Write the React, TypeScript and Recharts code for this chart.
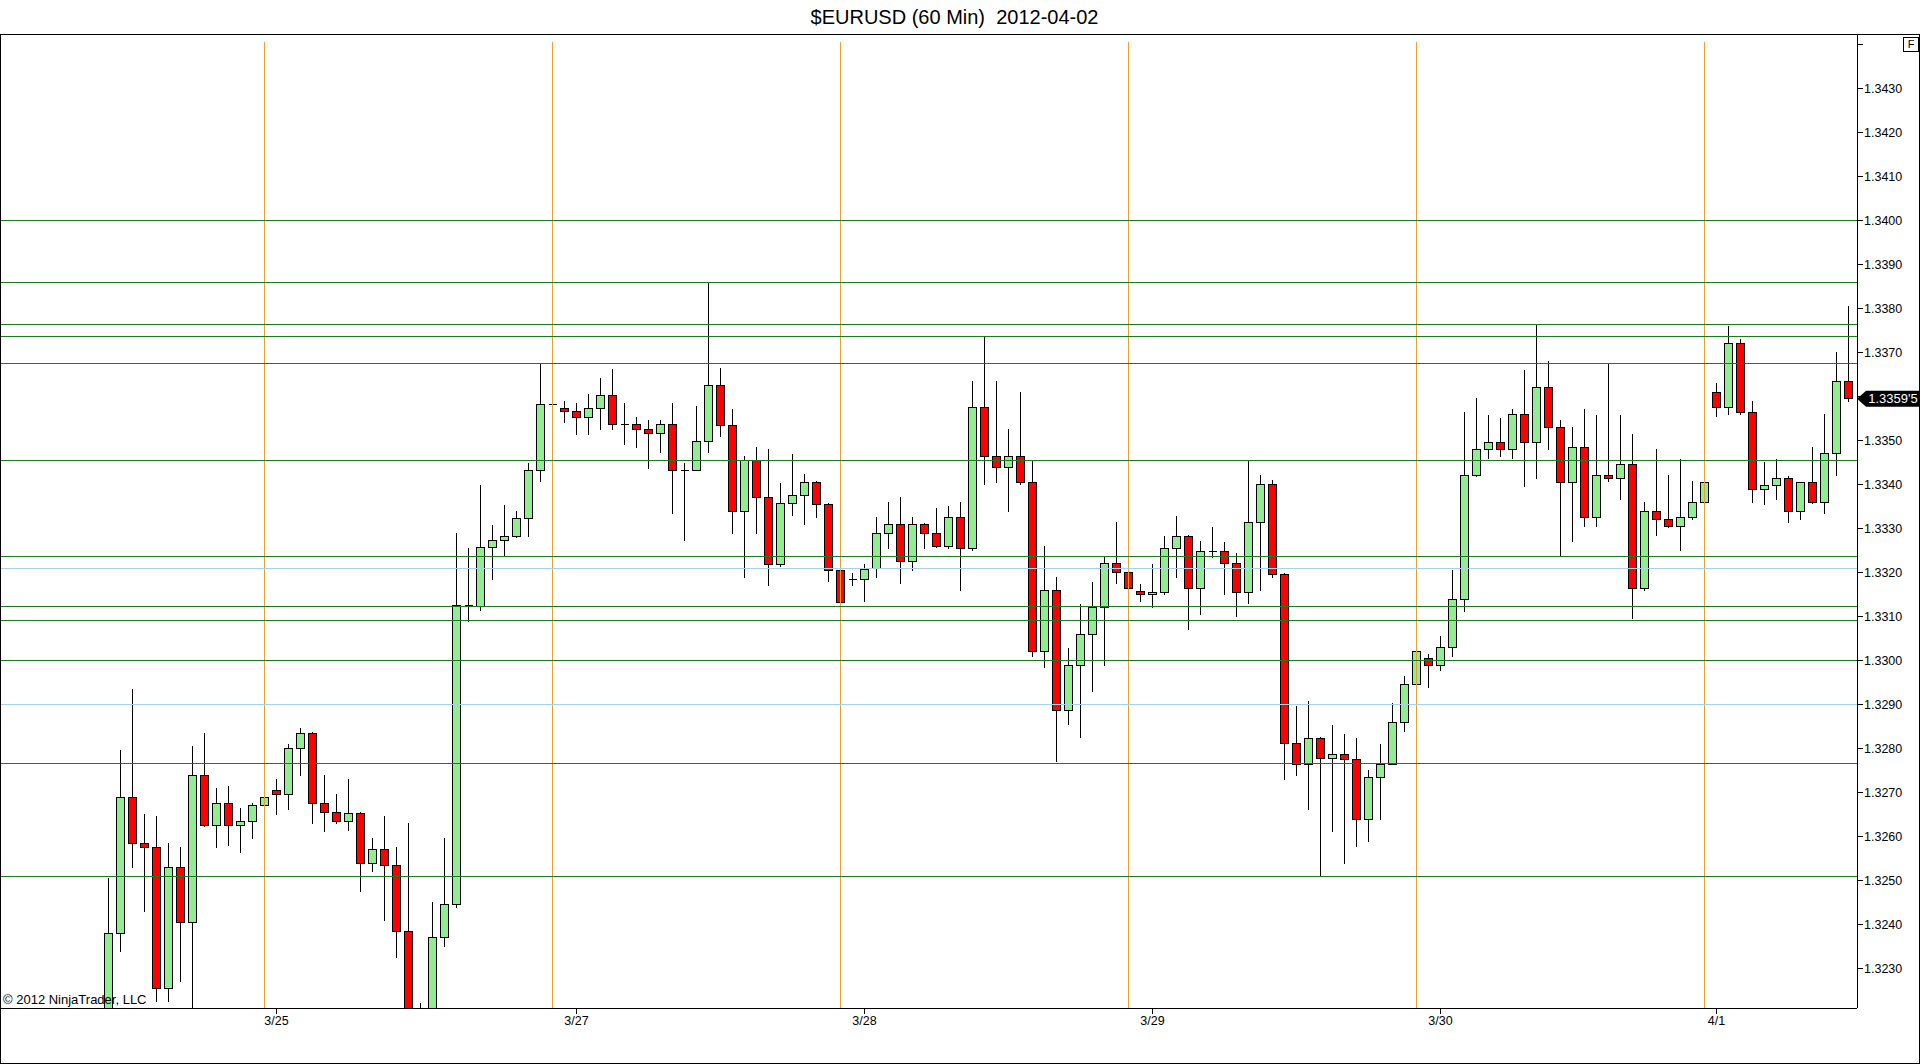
import React from "react";
import { ComposedChart, Bar, XAxis, YAxis, ReferenceLine } from "recharts";

// hourly EURUSD candles, index 0 = first bar on screen
const opens = [
  1.3200, 1.32381, 1.3269, 1.32585, 1.32576, 1.32255, 1.32531, 1.32406, 1.3274, 1.32625,
  1.32676, 1.32625, 1.32635, 1.32672, 1.32706, 1.32697, 1.32801, 1.32835, 1.32676, 1.32656,
  1.32635, 1.32652, 1.3254, 1.32572, 1.32535, 1.32385, 1.3200, 1.3205, 1.32371, 1.32446,
  1.33126, 1.33122, 1.33256, 1.33272, 1.33282, 1.33322, 1.33431, 1.33582, 1.33572, 1.33567,
  1.33553, 1.33572, 1.33602, 1.33536, 1.33536, 1.33524, 1.33516, 1.33536, 1.33431, 1.33431,
  1.33498, 1.33624, 1.33534, 1.33338, 1.33455, 1.3337, 1.33219, 1.33358, 1.33375, 1.33404,
  1.33354, 1.33204, 1.33185, 1.33185, 1.33209, 1.33288, 1.33309, 1.33225, 1.33309, 1.33288,
  1.33259, 1.33325, 1.33254, 1.33575, 1.33464, 1.33439, 1.33464, 1.33404, 1.3302, 1.33159,
  1.32888, 1.32988, 1.33059, 1.33121, 1.3322, 1.332, 1.33157, 1.3315, 1.33154, 1.33254,
  1.33283, 1.33163, 1.33249, 1.33249, 1.3322, 1.33154, 1.33313, 1.334, 1.33195, 1.32813,
  1.32765, 1.32824, 1.32778, 1.32788, 1.32776, 1.32639, 1.32734, 1.32764, 1.32859, 1.32946,
  1.33004, 1.3299, 1.33029, 1.33138, 1.33421, 1.3348, 1.33495, 1.3348, 1.33559, 1.33496,
  1.33621, 1.3353, 1.33405, 1.33485, 1.33325, 1.33421, 1.33414, 1.33446, 1.33164, 1.33339,
  1.3332, 1.33304, 1.33325, 1.33359, 1.33609, 1.33575, 1.33721, 1.33563, 1.33389, 1.33399,
  1.33413, 1.33339, 1.33404, 1.33359, 1.3347, 1.33635,
];

const highs = [
  1.32507, 1.32798, 1.32936, 1.32652, 1.32647, 1.32585, 1.32576, 1.32807, 1.32835, 1.32711,
  1.32716, 1.32666, 1.32676, 1.32716, 1.32732, 1.32811, 1.32848, 1.32838, 1.3274, 1.32697,
  1.32732, 1.32656, 1.32597, 1.32647, 1.32577, 1.32632, 1.32222, 1.32452, 1.32597, 1.33291,
  1.33257, 1.33398, 1.33308, 1.33353, 1.33341, 1.33449, 1.33676, 1.33643, 1.3359, 1.33586,
  1.33606, 1.33641, 1.33662, 1.33586, 1.33553, 1.33547, 1.33547, 1.33586, 1.33448, 1.33578,
  1.33858, 1.33664, 1.33571, 1.33464, 1.33485, 1.3348, 1.33404, 1.3347, 1.33425, 1.33409,
  1.33358, 1.33301, 1.332, 1.3322, 1.33326, 1.3336, 1.33371, 1.33326, 1.33312, 1.33346,
  1.33351, 1.3336, 1.33635, 1.33737, 1.33635, 1.33527, 1.3361, 1.33455, 1.3326, 1.33189,
  1.33029, 1.33129, 1.33179, 1.33235, 1.33314, 1.33263, 1.33175, 1.3322, 1.33284, 1.33329,
  1.33286, 1.33271, 1.33304, 1.3327, 1.33244, 1.33454, 1.33422, 1.3341, 1.332, 1.32896,
  1.32909, 1.32827, 1.32855, 1.32834, 1.32825, 1.32751, 1.3281, 1.32905, 1.32966, 1.3304,
  1.33015, 1.33055, 1.33205, 1.33564, 1.33596, 1.33559, 1.33551, 1.33571, 1.3366, 1.33764,
  1.3368, 1.33546, 1.3353, 1.33571, 1.33559, 1.33674, 1.33559, 1.33514, 1.3336, 1.3348,
  1.33421, 1.33459, 1.33409, 1.33472, 1.3363, 1.3376, 1.3373, 1.33589, 1.33451, 1.33459,
  1.3342, 1.33406, 1.33485, 1.3356, 1.33701, 1.33806,
];

const lows = [
  1.3195, 1.32339, 1.3253, 1.3243, 1.32225, 1.32225, 1.32271, 1.3200, 1.32622, 1.32575,
  1.3258, 1.32564, 1.32595, 1.32646, 1.3265, 1.3266, 1.32739, 1.3263, 1.3261, 1.3263,
  1.32614, 1.32475, 1.3252, 1.32409, 1.32325, 1.3195, 1.3195, 1.3202, 1.3235, 1.32439,
  1.33089, 1.33114, 1.33184, 1.33237, 1.33279, 1.33281, 1.33406, 1.33541, 1.33541, 1.33512,
  1.33512, 1.33523, 1.33523, 1.3349, 1.33482, 1.33435, 1.33471, 1.33334, 1.33271, 1.33431,
  1.33471, 1.33508, 1.33288, 1.33188, 1.33288, 1.33169, 1.33213, 1.33329, 1.33308, 1.33324,
  1.33179, 1.33125, 1.33169, 1.33133, 1.33188, 1.33254, 1.33175, 1.33204, 1.33254, 1.33257,
  1.33254, 1.33158, 1.33249, 1.33398, 1.33404, 1.33338, 1.33399, 1.33008, 1.32983, 1.32769,
  1.32853, 1.32825, 1.32929, 1.32987, 1.33174, 1.33145, 1.33133, 1.3312, 1.3315, 1.33188,
  1.3307, 1.33104, 1.33234, 1.3315, 1.33099, 1.33129, 1.33158, 1.33188, 1.32729, 1.32737,
  1.32661, 1.32511, 1.32612, 1.32538, 1.32576, 1.32588, 1.32639, 1.32764, 1.32839, 1.32929,
  1.32938, 1.32976, 1.33009, 1.3311, 1.33418, 1.33459, 1.33463, 1.33459, 1.33395, 1.33413,
  1.33479, 1.33237, 1.3327, 1.33304, 1.33304, 1.33406, 1.33364, 1.33095, 1.33158, 1.33283,
  1.33302, 1.33249, 1.3332, 1.33354, 1.33554, 1.33558, 1.33558, 1.33359, 1.33354, 1.33364,
  1.33313, 1.3332, 1.33357, 1.33333, 1.3342, 1.33588,
];

const closes = [
  1.32381, 1.3269, 1.32585, 1.32576, 1.32255, 1.32531, 1.32406, 1.3274, 1.32625, 1.32676,
  1.32625, 1.32635, 1.32672, 1.3269, 1.32697, 1.32801, 1.32835, 1.32676, 1.32656, 1.32635,
  1.32652, 1.3254, 1.32572, 1.32535, 1.32385, 1.3200, 1.3205, 1.32371, 1.32446, 1.33126,
  1.33126, 1.33256, 1.33272, 1.33282, 1.33322, 1.33431, 1.33582, 1.33582, 1.33567, 1.33553,
  1.33572, 1.33602, 1.33536, 1.33536, 1.33524, 1.33516, 1.33536, 1.33431, 1.33431, 1.33498,
  1.33624, 1.33534, 1.33338, 1.33455, 1.3337, 1.33219, 1.33358, 1.33375, 1.33404, 1.33354,
  1.33206, 1.33133, 1.33185, 1.33207, 1.33288, 1.33309, 1.33225, 1.33309, 1.33288, 1.33259,
  1.33325, 1.33254, 1.33575, 1.33464, 1.33439, 1.33464, 1.33404, 1.3302, 1.33159, 1.32888,
  1.32988, 1.33059, 1.33121, 1.3322, 1.332, 1.33163, 1.3315, 1.33154, 1.33254, 1.33283,
  1.33163, 1.33249, 1.33249, 1.3322, 1.33154, 1.33313, 1.334, 1.33195, 1.32813, 1.32765,
  1.32824, 1.32778, 1.32788, 1.32776, 1.32639, 1.32734, 1.32764, 1.32859, 1.32946, 1.3302,
  1.3299, 1.33029, 1.33138, 1.33421, 1.3348, 1.33495, 1.3348, 1.33559, 1.33496, 1.33621,
  1.3353, 1.33405, 1.33485, 1.33325, 1.33421, 1.33414, 1.33446, 1.33164, 1.33339, 1.3332,
  1.33304, 1.33325, 1.33359, 1.33404, 1.33575, 1.33721, 1.33563, 1.33389, 1.33399, 1.33413,
  1.33339, 1.33404, 1.33359, 1.3347, 1.33635, 1.33595,
];

// horizontal drawing objects
const greenLevels = [
  1.34, 1.33858, 1.33764, 1.33737, 1.33676, 1.33455, 1.33237, 1.33123, 1.33092, 1.33,
  1.32766, 1.3251,
];
const blueLevels = [1.33209, 1.329];

// session breaks (bar index) and date labels
const sessionBreaks = [13, 37, 61, 85, 109, 133];
const dateTicks = [14, 39, 63, 87, 111, 134];
const dateLabels = ["3/25", "3/27", "3/28", "3/29", "3/30", "4/1"];

const priceTicks = [
  1.323, 1.324, 1.325, 1.326, 1.327, 1.328, 1.329, 1.33, 1.331, 1.332, 1.333,
  1.334, 1.335, 1.336, 1.337, 1.338, 1.339, 1.34, 1.341, 1.342, 1.343, 1.344,
];
// labels hidden by the top edge and by the last-price tag
const hiddenTickLabels = [1.344, 1.336];

const yMin = 1.322112;
const yMax = 1.344234;
const xMin = -8.958333;
const xMax = 145.708333;
const breakTop = 1.344052;

const FONT = '"Liberation Sans", Arial, sans-serif';

const rows = opens.map((o, i) => ({
  i,
  open: o,
  high: highs[i],
  low: lows[i],
  close: closes[i],
}));

const Candle = (props: any) => {
  const { x, y, width, height, payload } = props;
  if (x == null || y == null || !payload) return null;
  const { open, close, high, low } = payload;
  const top = Math.min(y, y + height);
  const bot = Math.max(y, y + height);
  const ppu = (bot - top) / (high - low);
  const py = (v: number) => top + (high - v) * ppu;
  const cx = Math.floor(x + width / 2) + 0.5;
  const bTop = py(Math.max(open, close));
  const bBot = py(Math.min(open, close));
  const up = close > open;
  return (
    <g shapeRendering="crispEdges">
      <line x1={cx} x2={cx} y1={py(high)} y2={py(low)} stroke="#000" strokeWidth={1} />
      {open === close ? (
        <line x1={cx - 4} x2={cx + 4} y1={bTop} y2={bTop} stroke="#000" strokeWidth={1} />
      ) : (
        <rect
          x={cx - 4}
          y={bTop}
          width={8}
          height={Math.max(bBot - bTop, 1)}
          fill={up ? "#90EE90" : "#FF0000"}
          stroke="#000"
          strokeWidth={1}
        />
      )}
    </g>
  );
};

const fmtLast = (v: number) => {
  const s = v.toFixed(5);
  return s.slice(0, 6) + "'" + s.slice(6);
};

const PriceTag = (props: any) => {
  const vb = props.viewBox;
  if (!vb) return null;
  const x0 = vb.x + vb.width;
  const yc = vb.y;
  return (
    <g>
      <path
        d={`M${x0},${yc} L${x0 + 9},${yc - 8} L${x0 + 63},${yc - 8} L${x0 + 63},${yc + 8} L${x0 + 9},${yc + 8} Z`}
        fill="#000"
      />
      <text
        x={x0 + 36}
        y={yc}
        dy="0.36em"
        textAnchor="middle"
        fill="#fff"
        fontSize={13}
        fontFamily={FONT}
      >
        {fmtLast(closes[closes.length - 1])}
      </text>
    </g>
  );
};

const App = () => {
  return (
    <div
      style={{
        position: "absolute",
        left: 0,
        top: 0,
        width: 1920,
        height: 1064,
        background: "#fff",
        overflow: "hidden",
        fontFamily: FONT,
      }}
    >
      <div
        style={{
          position: "absolute",
          left: 0,
          top: 7,
          width: 1909,
          textAlign: "center",
          fontSize: 20,
          lineHeight: "20px",
          whiteSpace: "pre",
          color: "#000",
        }}
      >
        {"$EURUSD (60 Min)  2012-04-02"}
      </div>
      <div
        style={{
          position: "absolute",
          left: 0,
          top: 34,
          width: 1920,
          height: 1030,
          border: "1px solid #000",
          boxSizing: "border-box",
        }}
      />
      <div style={{ position: "absolute", left: 0, top: 0 }}>
        <ComposedChart
          width={1920}
          height={1064}
          data={rows}
          margin={{ top: 34, right: 1, bottom: 1, left: 1 }}
        >
          <XAxis
            type="number"
            dataKey="i"
            domain={[xMin, xMax]}
            allowDataOverflow
            ticks={dateTicks}
            interval={0}
            tickFormatter={(v: number) => dateLabels[dateTicks.indexOf(v)] ?? ""}
            height={55}
            axisLine={{ stroke: "#000", shapeRendering: "crispEdges" }}
            tickLine={{ stroke: "#000", shapeRendering: "crispEdges" }}
            tickSize={6}
            tickMargin={2}
            tick={{ fontSize: 12.5, fill: "#000", fontFamily: FONT }}
          />
          <YAxis
            orientation="right"
            type="number"
            domain={[yMin, yMax]}
            allowDataOverflow
            ticks={priceTicks}
            interval={0}
            tickFormatter={(v: number) =>
              hiddenTickLabels.some((h) => Math.abs(h - v) < 1e-6) ? "" : v.toFixed(4)
            }
            width={62}
            axisLine={{ stroke: "#000", shapeRendering: "crispEdges" }}
            tickLine={{ stroke: "#000", shapeRendering: "crispEdges" }}
            tickSize={6}
            tickMargin={1}
            tick={{ fontSize: 12.5, fill: "#000", fontFamily: FONT }}
          />
          {sessionBreaks.map((k) => (
            <ReferenceLine
              key={"s" + k}
              segment={[
                { x: k, y: breakTop },
                { x: k, y: yMin },
              ]}
              stroke="#E8A030"
              strokeWidth={1}
              shapeRendering="crispEdges"
            />
          ))}
          <Bar
            dataKey={(d: any) => [d.low, d.high]}
            barSize={8}
            shape={<Candle />}
            isAnimationActive={false}
          />
          {greenLevels.map((v) => (
            <ReferenceLine
              key={"g" + v}
              y={v}
              stroke="#1B7A1B"
              strokeWidth={1}
              shapeRendering="crispEdges"
            />
          ))}
          {blueLevels.map((v) => (
            <ReferenceLine
              key={"b" + v}
              y={v}
              stroke="#A6D2EC"
              strokeWidth={1}
              shapeRendering="crispEdges"
            />
          ))}
          <ReferenceLine
            y={closes[closes.length - 1]}
            stroke="none"
            label={<PriceTag />}
          />
        </ComposedChart>
      </div>
      <div
        style={{
          position: "absolute",
          left: 1903,
          top: 37,
          width: 16,
          height: 15,
          border: "1px solid #000",
          boxSizing: "border-box",
          fontSize: 11,
          lineHeight: "13px",
          textAlign: "center",
          background: "#fff",
        }}
      >
        F
      </div>
      <div
        style={{
          position: "absolute",
          left: 3,
          top: 993,
          fontSize: 13,
          lineHeight: "13px",
          color: "#000",
          whiteSpace: "nowrap",
        }}
      >
        © 2012 NinjaTrader, LLC
      </div>
    </div>
  );
};

export default App;
